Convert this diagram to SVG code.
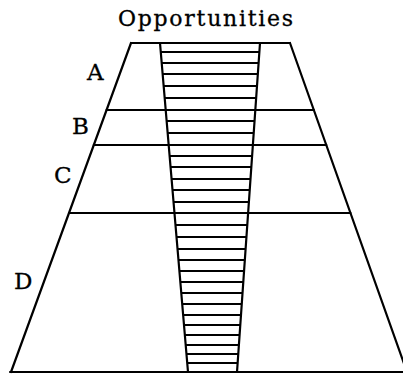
<svg xmlns="http://www.w3.org/2000/svg" width="403" height="374" viewBox="0 0 403 374">
<style>
  .ln{stroke:#000;stroke-width:2.2;fill:none;stroke-linecap:round}
  .rg{stroke:#000;stroke-width:2;fill:none}
  .t{font-family:"DejaVu Serif","Liberation Serif",serif;font-size:23px;fill:#000;stroke:#000;stroke-width:0.3}
  .h{font-size:22px}
</style>
<rect width="403" height="374" fill="#fff"/>
<g id="title"><text class="t h" x="118" y="26" textLength="175" lengthAdjust="spacing">Opportunities</text></g>
<g id="outline">
  <line class="ln" x1="131" y1="43" x2="290" y2="43"/>
  <line class="ln" x1="131" y1="43" x2="11" y2="372"/>
  <line class="ln" x1="290" y1="43" x2="407" y2="372"/>
  <line class="ln" x1="10" y1="372" x2="403" y2="372"/>
</g>
<g id="bands">
  <line class="ln" x1="106.6" y1="110" x2="313.8" y2="110"/>
  <line class="ln" x1="93.8" y1="145" x2="326.3" y2="145"/>
  <line class="ln" x1="69" y1="213" x2="350.5" y2="213"/>
</g>
<g id="funnel">
  <line class="ln" x1="160" y1="43" x2="188" y2="372"/>
  <line class="ln" x1="260" y1="43" x2="237" y2="372"/>
  <line class="rg" x1="160.8" y1="52" x2="259.4" y2="52"/>
  <line class="rg" x1="161.7" y1="63" x2="258.6" y2="63"/>
  <line class="rg" x1="162.6" y1="74" x2="257.8" y2="74"/>
  <line class="rg" x1="163.7" y1="86" x2="257.0" y2="86"/>
  <line class="rg" x1="164.7" y1="98" x2="256.2" y2="98"/>
  <line class="rg" x1="166.6" y1="121" x2="254.5" y2="121"/>
  <line class="rg" x1="167.7" y1="133" x2="253.7" y2="133"/>
  <line class="rg" x1="169.6" y1="156" x2="252.1" y2="156"/>
  <line class="rg" x1="170.6" y1="167" x2="251.3" y2="167"/>
  <line class="rg" x1="171.6" y1="179" x2="250.5" y2="179"/>
  <line class="rg" x1="172.5" y1="190" x2="249.7" y2="190"/>
  <line class="rg" x1="173.5" y1="202" x2="248.9" y2="202"/>
  <line class="rg" x1="175.5" y1="225" x2="247.3" y2="225"/>
  <line class="rg" x1="176.5" y1="237" x2="246.4" y2="237"/>
  <line class="rg" x1="177.5" y1="249" x2="245.6" y2="249"/>
  <line class="rg" x1="178.5" y1="260" x2="244.8" y2="260"/>
  <line class="rg" x1="179.4" y1="271" x2="244.1" y2="271"/>
  <line class="rg" x1="180.3" y1="282" x2="243.3" y2="282"/>
  <line class="rg" x1="181.3" y1="293" x2="242.5" y2="293"/>
  <line class="rg" x1="182.2" y1="304" x2="241.8" y2="304"/>
  <line class="rg" x1="183.1" y1="315" x2="241.0" y2="315"/>
  <line class="rg" x1="184.0" y1="325" x2="240.3" y2="325"/>
  <line class="rg" x1="184.9" y1="335" x2="239.6" y2="335"/>
  <line class="rg" x1="185.7" y1="345" x2="238.9" y2="345"/>
  <line class="rg" x1="186.5" y1="354" x2="238.3" y2="354"/>
  <line class="rg" x1="187.2" y1="363" x2="237.6" y2="363"/>
</g>
<g id="labels">
  <text class="t" x="87" y="80">A</text>
  <text class="t" x="72" y="134">B</text>
  <text class="t" x="54" y="183">C</text>
  <text class="t" x="14" y="289">D</text>
</g>
</svg>
